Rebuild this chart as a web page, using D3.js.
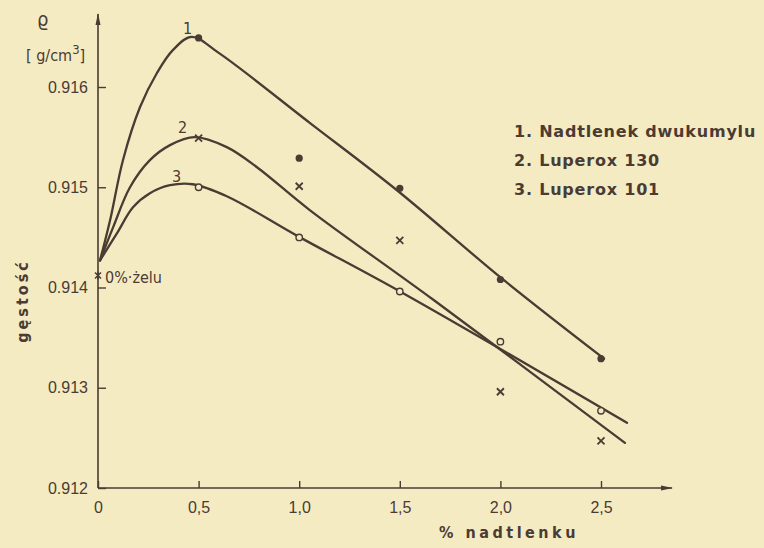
<!DOCTYPE html>
<html lang="pl">
<head>
<meta charset="UTF-8">
<script src="https://d3js.org/d3.v7.min.js"></script>
<style>
  body { margin: 0; background: #f5ebc3; }
  svg { display: block; font-family: 'DejaVu Sans Condensed', 'DejaVu Sans', sans-serif; }
</style>
</head>
<body>
<div id="chart"></div>
<script>
// osie
const ticksX = [0, 0.5, 1.0, 1.5, 2.0, 2.5];
const tickLabelsX = ["0", "0,5", "1,0", "1,5", "2,0", "2,5"];
const ticksY = [0.912, 0.913, 0.914, 0.915, 0.916];
const tickLabelsY = ["0.912", "0.913", "0.914", "0.915", "0.916"];

// punkty pomiarowe
const doses = [0.5, 1.0, 1.5, 2.0, 2.5];
const dens1 = [0.91649, 0.91529, 0.91499, 0.91408, 0.91329];
const dens2 = [0.91549, 0.91501, 0.91447, 0.91296, 0.91247];
const dens3 = [0.91500, 0.91450, 0.91396, 0.91346, 0.91277];
const gelZero = 0.91412;

// krzywe wyrownane
const fitX1 = [0.010, 0.060, 0.124, 0.209, 0.293, 0.373, 0.465, 0.600, 1.054, 1.486, 2.013, 2.515];
const fitY1 = [0.91427, 0.91467, 0.91527, 0.91580, 0.91614, 0.91637, 0.91650, 0.91634, 0.91564, 0.91497, 0.91408, 0.91329];
const fitX2 = [0.010, 0.075, 0.159, 0.258, 0.358, 0.480, 0.640, 0.790, 1.054, 1.665, 2.619];
const fitY2 = [0.91427, 0.91460, 0.91500, 0.91527, 0.91542, 0.91550, 0.91540, 0.91520, 0.91477, 0.91388, 0.91245];
const fitX3 = [0.010, 0.094, 0.174, 0.258, 0.358, 0.470, 0.640, 1.004, 1.501, 2.629];
const fitY3 = [0.91427, 0.91454, 0.91480, 0.91494, 0.91502, 0.91503, 0.91491, 0.91450, 0.91396, 0.91265];

const legend = ["1. Nadtlenek dwukumylu", "2. Luperox 130", "3. Luperox 101"];

const width = 764, height = 548;
const ink = "#4a3b33";
const paper = "#f5ebc3";

const svg = d3.select("#chart").append("svg")
  .attr("width", width).attr("height", height);

svg.append("rect").attr("width", width).attr("height", height).attr("fill", paper);

const x = d3.scaleLinear().domain([0, 2.5]).range([98, 601]);
const y = d3.scaleLinear().domain([0.912, 0.916]).range([488, 87]);

// strzalki
const defs = svg.append("defs");
defs.append("marker")
  .attr("id", "arrow")
  .attr("viewBox", "0 -3 12 6")
  .attr("refX", 11).attr("refY", 0)
  .attr("markerWidth", 12).attr("markerHeight", 6)
  .attr("markerUnits", "userSpaceOnUse")
  .attr("orient", "auto")
  .append("path").attr("d", "M0,-2.5L12,0L0,2.5Z").attr("fill", ink);

// os X
svg.append("line")
  .attr("x1", x(0)).attr("y1", y(0.912)).attr("x2", 672).attr("y2", y(0.912))
  .attr("stroke", ink).attr("stroke-width", 1.6).attr("marker-end", "url(#arrow)");
// os Y
svg.append("line")
  .attr("x1", x(0)).attr("y1", y(0.912)).attr("x2", x(0)).attr("y2", 14)
  .attr("stroke", ink).attr("stroke-width", 1.6).attr("marker-end", "url(#arrow)");

const xAxis = d3.axisBottom(x).tickValues(ticksX)
  .tickSize(-7).tickPadding(14)
  .tickFormat((d, i) => tickLabelsX[i]);
const gx = svg.append("g").attr("transform", `translate(0,${y(0.912)})`).call(xAxis);
gx.select(".domain").remove();
gx.selectAll(".tick line").attr("stroke", ink).attr("stroke-width", 1.4);
gx.selectAll(".tick text").attr("fill", ink).attr("font-size", 16);

const yAxis = d3.axisLeft(y).tickValues(ticksY)
  .tickSize(-8).tickPadding(10)
  .tickFormat((d, i) => tickLabelsY[i]);
const gy = svg.append("g").attr("transform", `translate(${x(0)},0)`).call(yAxis);
gy.select(".domain").remove();
gy.selectAll(".tick line").attr("stroke", ink).attr("stroke-width", 1.4);
gy.selectAll(".tick text").attr("fill", ink).attr("font-size", 16);

// krzywe
const line = d3.line().x(d => x(d[0])).y(d => y(d[1])).curve(d3.curveCatmullRom.alpha(0.5));
[[fitX1, fitY1], [fitX2, fitY2], [fitX3, fitY3]].forEach(([fx, fy]) => {
  svg.append("path")
    .attr("d", line(fx.map((v, i) => [v, fy[i]])))
    .attr("fill", "none").attr("stroke", ink).attr("stroke-width", 2.3)
    .attr("stroke-linecap", "round");
});

// punkty: seria 1 - pelne kolka
svg.selectAll(".p1").data(doses).join("circle")
  .attr("cx", d => x(d)).attr("cy", (d, i) => y(dens1[i]))
  .attr("r", 3.6).attr("fill", ink);

// seria 2 - krzyzyki
svg.selectAll(".p2").data(doses).join("path")
  .attr("transform", (d, i) => `translate(${x(d)},${y(dens2[i])})`)
  .attr("d", "M-3.5,-3.5L3.5,3.5M-3.5,3.5L3.5,-3.5")
  .attr("stroke", ink).attr("stroke-width", 1.8);

// seria 3 - puste kolka
svg.selectAll(".p3").data(doses).join("circle")
  .attr("cx", d => x(d)).attr("cy", (d, i) => y(dens3[i]))
  .attr("r", 3.2).attr("fill", paper).attr("stroke", ink).attr("stroke-width", 1.4);

// 0% zelu
svg.append("path")
  .attr("transform", `translate(${x(0)},${y(gelZero)})`)
  .attr("d", "M-3,-3L3,3M-3,3L3,-3M0,-4L0,4")
  .attr("stroke", ink).attr("stroke-width", 1.5);
svg.append("text").attr("x", 105).attr("y", y(gelZero) + 8)
  .attr("fill", ink).attr("font-size", 16).text("0%·żelu");

// numery krzywych
[["1", 183, 34], ["2", 178, 133], ["3", 172, 182]].forEach(([t, tx, ty]) => {
  svg.append("text").attr("x", tx).attr("y", ty).attr("fill", ink)
    .attr("font-size", 16).text(t);
});

// legenda
svg.selectAll(".leg").data(legend).join("text")
  .attr("x", 514).attr("y", (d, i) => 137 + i * 29)
  .attr("fill", ink).attr("font-size", 16).attr("font-weight", "bold")
  .attr("font-family", "'DejaVu Sans', sans-serif").attr("letter-spacing", 0.8)
  .text(d => d);

// opisy osi
svg.append("text").attr("x", 37).attr("y", 26).attr("fill", ink)
  .attr("font-size", 20).text("ϱ");
svg.append("text").attr("x", 26).attr("y", 61).attr("fill", ink)
  .attr("font-size", 16)
  .html('[ g/cm<tspan dy="-7" font-size="13">3</tspan><tspan dy="7">]</tspan>');
svg.append("text")
  .attr("transform", "translate(28,301) rotate(-90)")
  .attr("text-anchor", "middle").attr("fill", ink)
  .attr("font-size", 16).attr("font-weight", "bold").attr("letter-spacing", 3)
  .text("gęstość");
svg.append("text").attr("x", 509).attr("y", 538).attr("text-anchor", "middle")
  .attr("fill", ink).attr("font-size", 16).attr("font-weight", "bold")
  .attr("letter-spacing", 3.5)
  .text("% nadtlenku");
</script>
</body>
</html>
